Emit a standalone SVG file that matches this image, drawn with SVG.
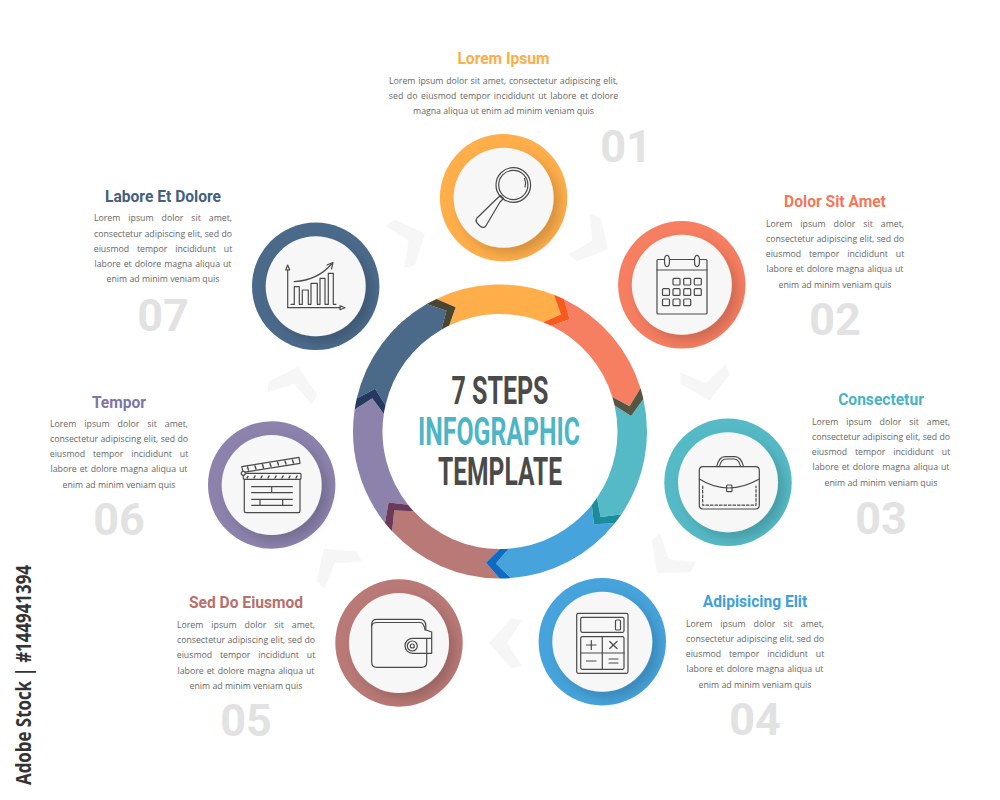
<svg xmlns="http://www.w3.org/2000/svg" width="1000" height="800" viewBox="0 0 1000 800">
<style>
.t{font-family:Roboto,"Liberation Sans",sans-serif;font-weight:700;font-size:15.6px;text-anchor:middle}
.b{font-family:"Open Sans","Liberation Sans",sans-serif;font-size:8.75px;fill:#666;text-anchor:middle}
.w1{word-spacing:5.75px}.w2{word-spacing:.1px}.w3{word-spacing:5.6px}.w4{word-spacing:.7px}
.n{font-family:Roboto,"Liberation Sans",sans-serif;font-weight:700;font-size:45px;fill:#e2e2e2;text-anchor:middle}
.c{font-family:Roboto,"Liberation Sans",sans-serif;font-weight:700;font-size:38px;text-anchor:middle}
.i{fill:none;stroke:#4a4a4a;stroke-width:1.2;stroke-linejoin:round;stroke-linecap:round}
.inner{fill:#f7f7f7;filter:url(#sh)}
.chev{fill:#f6f6f6}
</style>
<defs>
<filter id="sh" x="-40%" y="-40%" width="190%" height="190%"><feDropShadow dx="6" dy="6" stdDeviation="6" flood-color="#000" flood-opacity=".17"/></filter>
<path id="seg" d="M-117.6-88.2A147 147 0 0 1-15.37-146.2L0-132L-12.28-116.86A117.5 117.5 0 0 0-94-70.5L-96.77-89.78Z"/>
<path id="band" d="M-15.37-146.2A147 147 0 0 1-4.36-146.93L9.9-131.63L-3.49-117.45A117.5 117.5 0 0 0-12.28-116.86L0-132Z"/>
<polygon id="chv" class="chev" points="489,643 511,618 522,620 507,643 522,666 511,668"/>
</defs>
<rect width="1000" height="800" fill="#fff"/>
<g id="connectors">
<use href="#chv" transform="rotate(-152.29 500 431.5)"/>
<use href="#chv" transform="rotate(-101.36 500 431.5)"/>
<use href="#chv" transform="rotate(-50.93 500 431.5)"/>
<use href="#chv"/>
<use href="#chv" transform="rotate(53.43 500 431.5)"/>
<use href="#chv" transform="rotate(104.86 500 431.5)"/>
<use href="#chv" transform="rotate(156.29 500 431.5)"/>
</g>
<g id="ring" transform="translate(500 431.5)">
<use href="#seg" fill="#ffae4a" transform="rotate(27.5)"/>
<use href="#seg" fill="#f67e61" transform="rotate(78.93)"/>
<use href="#seg" fill="#55bac6" transform="rotate(130.36)"/>
<use href="#seg" fill="#46a3db" transform="rotate(181.79)"/>
<use href="#seg" fill="#b97976" transform="rotate(233.21)"/>
<use href="#seg" fill="#8c82ac" transform="rotate(284.64)"/>
<use href="#seg" fill="#4b6a8a" transform="rotate(336.07)"/>
<use href="#band" fill="#f75a1c" transform="rotate(27.5)"/>
<use href="#band" fill="#555544" transform="rotate(78.93)"/>
<use href="#band" fill="#1a8c9c" transform="rotate(130.36)"/>
<use href="#band" fill="#0e6bbf" transform="rotate(181.79)"/>
<use href="#band" fill="#6b3a58" transform="rotate(233.21)"/>
<use href="#band" fill="#243860" transform="rotate(284.64)"/>
<use href="#band" fill="#4a4530" transform="rotate(336.07)"/>
</g>
<g id="center-title">
<text class="c" x="500" y="404" fill="#4a4a4a" textLength="97" lengthAdjust="spacingAndGlyphs">7 STEPS</text>
<text class="c" x="499" y="444.5" fill="#4db6c6" textLength="162" lengthAdjust="spacingAndGlyphs">INFOGRAPHIC</text>
<text class="c" x="500" y="485" fill="#4a4a4a" textLength="124" lengthAdjust="spacingAndGlyphs">TEMPLATE</text>
</g>
<g id="node-01">
<circle cx="503.6" cy="197.7" r="63.7" fill="#ffae4a"/><circle class="inner" cx="503.6" cy="197.7" r="50"/>
<g class="i"><circle cx="513.3" cy="185" r="17.3"/><circle cx="513.3" cy="185" r="14.6"/><path d="M524.5 178.5A12 12 0 0 1 525 187"/><path d="M500.5 195.5L503.5 198.5L500 202L485.5 226.5Q483 228.5 480 226L477 223Q475 220.5 477 218L496.5 199Z"/></g>
<text class="t" x="503.5" y="64" fill="#ffad47">Lorem Ipsum</text>
<text class="b" x="503.5" y="83.5" word-spacing=".5">Lorem ipsum dolor sit amet, consectetur adipiscing elit,</text>
<text class="b" x="503.5" y="98.5" word-spacing="1.3">sed do eiusmod tempor incididunt ut labore et dolore</text>
<text class="b" x="503.5" y="114">magna aliqua ut enim ad minim veniam quis</text>
<text class="n" x="626" y="162">01</text>
</g>
<g id="node-02">
<circle cx="681.8" cy="284.8" r="63.7" fill="#f67e61"/><circle class="inner" cx="681.8" cy="284.8" r="50"/>
<g class="i"><rect x="657" y="259.5" width="50" height="54.5" rx="1"/><path d="M657 270H707"/><ellipse cx="667" cy="261" rx="2.5" ry="5.6" fill="#f7f7f7"/><ellipse cx="697" cy="261" rx="2.5" ry="5.6" fill="#f7f7f7"/>
<rect x="673" y="278.3" width="7" height="6.7" rx="1"/><rect x="683.7" y="278.3" width="7" height="6.7" rx="1"/><rect x="694.3" y="278.3" width="7" height="6.7" rx="1"/>
<rect x="662.5" y="288.7" width="7" height="6.7" rx="1"/><rect x="673" y="288.7" width="7" height="6.7" rx="1"/><rect x="683.7" y="288.7" width="7" height="6.7" rx="1"/><rect x="694.3" y="288.7" width="7" height="6.7" rx="1"/>
<rect x="662.5" y="299" width="7" height="6.7" rx="1"/><rect x="673" y="299" width="7" height="6.7" rx="1"/><rect x="683.7" y="299" width="7" height="6.7" rx="1"/></g>
<text class="t" x="835" y="207" fill="#f5775a">Dolor Sit Amet</text>
<text class="b w1" x="835" y="226.5">Lorem ipsum dolor sit amet,</text>
<text class="b w2" x="835" y="241.5">consectetur adipiscing elit, sed do</text>
<text class="b w3" x="835" y="257">eiusmod tempor incididunt ut</text>
<text class="b w4" x="835" y="272">labore et dolore magna aliqua ut</text>
<text class="b" x="835" y="287.5">enim ad minim veniam quis</text>
<text class="n" x="835" y="335">02</text>
</g>
<g id="node-03">
<circle cx="728" cy="482.3" r="63.7" fill="#55bac6"/><circle class="inner" cx="728" cy="482.3" r="50"/>
<g class="i"><path d="M703 466.7H755.5Q759.3 466.7 759.3 470.5V505Q759.3 509 755.5 509H703Q699.3 509 699.3 505V470.5Q699.3 466.7 703 466.7Z"/><path d="M699.3 479Q728 497 759.3 479"/><rect x="726.6" y="485" width="5.4" height="6.7" rx="1"/><path d="M716.7 466.7Q719 456.7 725 456.7H735Q741 456.7 743.5 466.7M719.5 466.7Q721 459 726 459H734Q739 459 740.5 466.7"/><path d="M702.7 486V505.2H756V486" stroke-dasharray="2.5 2"/></g>
<text class="t" x="881" y="405" fill="#47b4c4">Consectetur</text>
<text class="b w1" x="881" y="424.5">Lorem ipsum dolor sit amet,</text>
<text class="b w2" x="881" y="439.5">consectetur adipiscing elit, sed do</text>
<text class="b w3" x="881" y="455">eiusmod tempor incididunt ut</text>
<text class="b w4" x="881" y="470">labore et dolore magna aliqua ut</text>
<text class="b" x="881" y="485.5">enim ad minim veniam quis</text>
<text class="n" x="881" y="534">03</text>
</g>
<g id="node-04">
<circle cx="602.3" cy="641.7" r="63.7" fill="#46a3db"/><circle class="inner" cx="602.3" cy="641.7" r="50"/>
<g class="i"><rect x="576.7" y="613.3" width="51.3" height="60" rx="1.5"/><rect x="580.7" y="617.3" width="43.3" height="15" rx="1.5"/><rect x="615.5" y="620" width="5" height="10" rx="1"/><rect x="580.7" y="636.7" width="43.3" height="32.6" rx="1.5"/><path d="M602.3 636.7V669.3M580.7 653H624M586.5 645H596M591.3 640.5V649.5M609.7 641.5L617 648.5M617 641.5L609.7 648.5M586.5 661H596M609 659H618M609 663H618"/></g>
<text class="t" x="755" y="607" fill="#3fa0dc">Adipisicing Elit</text>
<text class="b w1" x="755" y="626.5">Lorem ipsum dolor sit amet,</text>
<text class="b w2" x="755" y="641.5">consectetur adipiscing elit, sed do</text>
<text class="b w3" x="755" y="657">eiusmod tempor incididunt ut</text>
<text class="b w4" x="755" y="672">labore et dolore magna aliqua ut</text>
<text class="b" x="755" y="687.5">enim ad minim veniam quis</text>
<text class="n" x="755" y="735">04</text>
</g>
<g id="node-05">
<circle cx="399" cy="643" r="63.7" fill="#b97976"/><circle class="inner" cx="399" cy="643" r="50"/>
<g class="i"><path d="M426.7 638.5V662.3Q426.7 667.3 421.7 667.3H376.7Q371.7 667.3 371.7 662.3V624.3Q371.7 619.3 376.7 619.3H420Q425.5 619.3 425.8 625.5V630"/><path d="M371.7 626Q372 622.5 377 622.5H420Q424 622.5 425 630"/><path d="M426 630L431.7 632V653.3H412.5A7.5 7.5 0 0 1 412.5 638.3H431.7"/><circle cx="412.3" cy="646" r="5"/><circle cx="412.3" cy="646" r="2"/></g>
<text class="t" x="246" y="608" fill="#b96f6c">Sed Do Eiusmod</text>
<text class="b w1" x="246" y="627.5">Lorem ipsum dolor sit amet,</text>
<text class="b w2" x="246" y="643">consectetur adipiscing elit, sed do</text>
<text class="b w3" x="246" y="658">eiusmod tempor incididunt ut</text>
<text class="b w4" x="246" y="673.5">labore et dolore magna aliqua ut</text>
<text class="b" x="246" y="689">enim ad minim veniam quis</text>
<text class="n" x="246" y="736">05</text>
</g>
<g id="node-06">
<circle cx="271.7" cy="485" r="63.7" fill="#8c82ac"/><circle class="inner" cx="271.7" cy="485" r="50"/>
<g class="i"><path d="M244.3 479.3V511Q244.3 512.7 246 512.7H298.5Q300 512.7 300 511V479.3"/><rect x="243.3" y="473.3" width="57.7" height="6" rx="1"/><path d="M243.3 472.3L241.7 466.7L299 457.3L300 463.3Z"/><circle cx="243.3" cy="473.3" r="2" fill="#f7f7f7"/><path d="M251.7 486.7H292.3M251.7 492.7H292.3M251.7 499.3H292.3M251.7 505.3H292.3M271.7 486.7V492.7M260 499.3V505.3M282.7 499.3V505.3"/><path d="M248 476.5L247 478M255 476L254 478M262 476L261 478M269 476L268 478M276 476L275 478M283 476L282 478M290 476L289 478M297 476L296 478M247.5 467L248.5 470M255 466L256 469M262.5 464.5L263.5 468M270 463.5L271 466.5M277.5 462L278.5 465M285 461L286 464M292.5 460L293.5 463" stroke-width="1.4"/></g>
<text class="t" x="119" y="408" fill="#7f76a8">Tempor</text>
<text class="b w1" x="119" y="426.5">Lorem ipsum dolor sit amet,</text>
<text class="b w2" x="119" y="441.5">consectetur adipiscing elit, sed do</text>
<text class="b w3" x="119" y="457">eiusmod tempor incididunt ut</text>
<text class="b w4" x="119" y="472">labore et dolore magna aliqua ut</text>
<text class="b" x="119" y="487.5">enim ad minim veniam quis</text>
<text class="n" x="119" y="535">06</text>
</g>
<g id="node-07">
<circle cx="315.7" cy="286.3" r="63.7" fill="#4b6a8a"/><circle class="inner" cx="315.7" cy="286.3" r="50"/>
<g class="i"><path d="M287.7 270V307.7H340"/><path d="M285.7 270L287.7 265L289.7 270ZM340 305.7L345 307.7L340 309.7Z"/><path d="M291 304.3H294.3V286.7H299.3V304.3H302.3V290H308.3V304.3H311V283.3H317.3V304.3H320V278.3H325V304.3H328.3V273.3H333.3V304.3H336"/><path d="M294.3 281.7Q318 280 331.5 264"/><path d="M327 265L333 262.5L331.5 269"/></g>
<text class="t" x="163" y="202" fill="#44607f">Labore Et Dolore</text>
<text class="b w1" x="163" y="221">Lorem ipsum dolor sit amet,</text>
<text class="b w2" x="163" y="236.5">consectetur adipiscing elit, sed do</text>
<text class="b w3" x="163" y="251.5">eiusmod tempor incididunt ut</text>
<text class="b w4" x="163" y="267">labore et dolore magna aliqua ut</text>
<text class="b" x="163" y="282">enim ad minim veniam quis</text>
<text class="n" x="163" y="331">07</text>
</g>
<text transform="translate(31 785) rotate(-90)" font-family="'Open Sans','Liberation Sans',sans-serif" font-weight="700" font-size="21" fill="#333" textLength="220" lengthAdjust="spacingAndGlyphs">Adobe Stock | #144941394</text>
</svg>
